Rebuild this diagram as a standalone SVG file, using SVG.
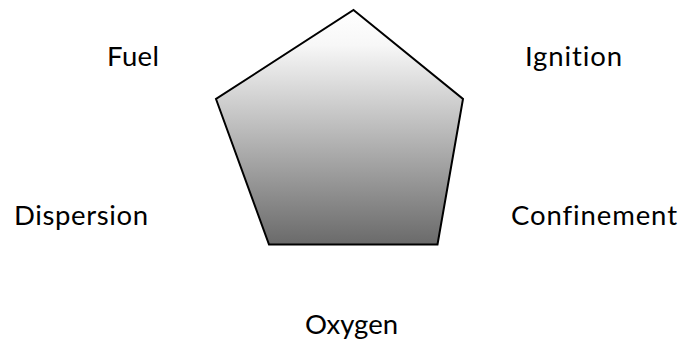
<svg xmlns="http://www.w3.org/2000/svg" width="682" height="342" viewBox="0 0 682 342">
<style>
text { font-family: Lato, "Open Sans", "Liberation Sans", sans-serif; font-size: 27.5px; fill: #000; font-variant-ligatures: none; }
.shape { stroke: #000; stroke-width: 2; stroke-linejoin: miter; }
</style>
<defs>
<linearGradient id="g" x1="0" y1="0" x2="0" y2="1">
<stop offset="0" stop-color="#ffffff"/>
<stop offset="0.15" stop-color="#f7f7f7"/>
<stop offset="1" stop-color="#6a6a6a"/>
</linearGradient>
</defs>
<rect width="682" height="342" fill="#fff"/>
<g id="pentagon">
<polygon class="shape" points="353.5,10 463,99 437.5,244.5 269,244.5 216,99" fill="url(#g)"/>
</g>
<g id="fuel"><text x="107" y="66" textLength="52">Fuel</text></g>
<g id="ignition"><text x="525" y="66" textLength="97">Ignition</text></g>
<g id="dispersion"><text x="14" y="225" textLength="134">Dispersion</text></g>
<g id="confinement"><text x="511" y="225" textLength="166">Confinement</text></g>
<g id="oxygen"><text x="305" y="334" textLength="93">Oxygen</text></g>
<g id="connectors"></g>
</svg>
